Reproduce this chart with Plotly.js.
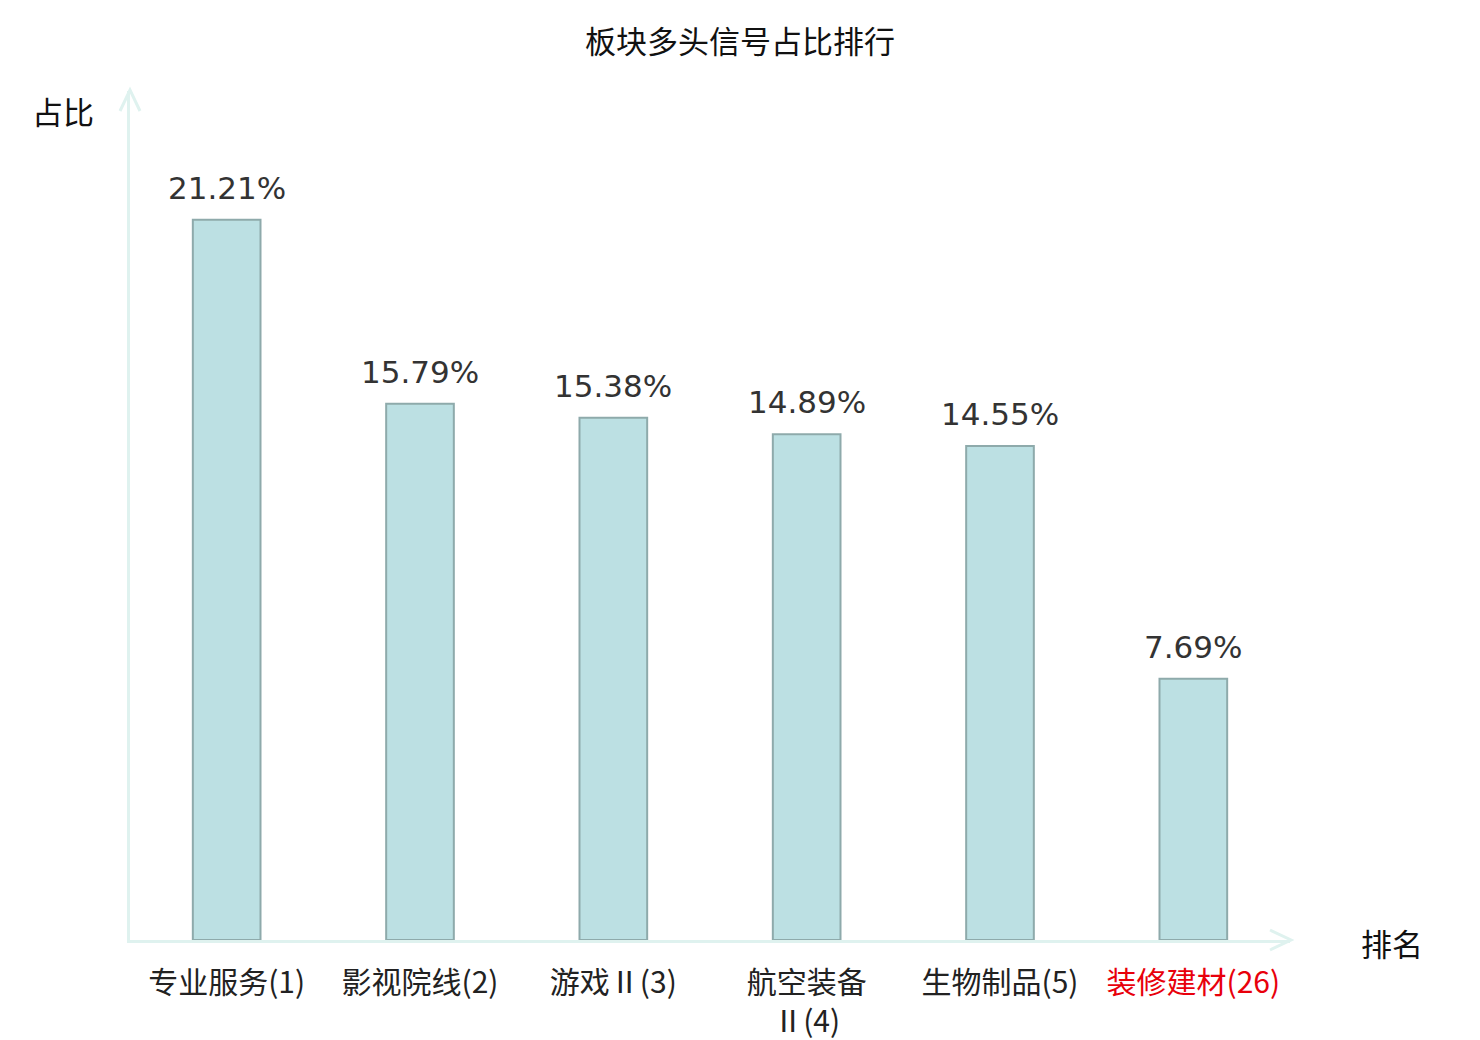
<!DOCTYPE html>
<html>
<head>
<meta charset="utf-8">
<script src="https://cdn.plot.ly/plotly-3.0.1.min.js"></script>
<style>
  html, body { margin: 0; padding: 0; background: #fff; }
  #chart { width: 1480px; height: 1040px; }
</style>
</head>
<body>
<div id="chart"></div>
<script>
// sector names with rank
const sectors = ['专业服务(1)', '影视院线(2)', '游戏Ⅱ(3)', '航空装备<br>Ⅱ(4)', '生物制品(5)', '<span style="color:#e8000b">装修建材(26)</span>'];
const shares = [21.21, 15.79, 15.38, 14.89, 14.55, 7.69];
const shareLabels = ['21.21%', '15.79%', '15.38%', '14.89%', '14.55%', '7.69%'];

const cjk = '"Noto Sans CJK SC", "Noto Sans", sans-serif';
const axisColor = '#dff2ef';
const positions = sectors.map((_, i) => i);

const trace = {
  type: 'bar',
  x: positions,
  y: shares,
  width: 0.35,
  marker: { color: '#bce0e3', line: { color: '#8eaaab', width: 2 } },
  hoverinfo: 'none'
};

// value labels sit a little above each bar
const valueNotes = positions.map((p, i) => ({
  x: p, y: shares[i], xref: 'x', yref: 'y',
  text: shareLabels[i],
  xanchor: 'center', yanchor: 'bottom', yshift: 12,
  showarrow: false,
  font: { family: '"DejaVu Sans", sans-serif', size: 31, color: '#333333' }
}));

const layout = {
  width: 1480,
  height: 1040,
  margin: { l: 130, r: 190, t: 91, b: 100 },
  paper_bgcolor: '#ffffff',
  plot_bgcolor: '#ffffff',
  showlegend: false,
  title: {
    text: '板块多头信号占比排行',
    font: { family: cjk, size: 31, color: '#111111' },
    x: 0.5, xanchor: 'center',
    y: 1 - 42 / 1040, yanchor: 'middle'
  },
  xaxis: {
    range: [-0.5, 5.5],
    tickvals: positions,
    ticktext: sectors,
    tickfont: { family: cjk, size: 30, color: '#222222' },
    ticklabelstandoff: 14,
    showgrid: false,
    zeroline: false,
    showline: true,
    linecolor: axisColor,
    linewidth: 3,
    ticks: '',
    fixedrange: true
  },
  yaxis: {
    range: [0, 25],
    showticklabels: false,
    showgrid: false,
    zeroline: false,
    showline: true,
    linecolor: axisColor,
    linewidth: 3,
    ticks: '',
    fixedrange: true
  },
  shapes: [
    // arrow heads at the axis ends
    {
      type: 'path', xref: 'paper', yref: 'paper',
      xsizemode: 'pixel', ysizemode: 'pixel', xanchor: 0, yanchor: 1,
      path: 'M -10,-20 L 0,1 L 10,-20',
      line: { color: axisColor, width: 3 }
    },
    {
      type: 'path', xref: 'paper', yref: 'paper',
      xsizemode: 'pixel', ysizemode: 'pixel', xanchor: 1, yanchor: 0,
      path: 'M -20,10 L 1,0 L -20,-10',
      line: { color: axisColor, width: 3 }
    }
  ],
  annotations: valueNotes.concat([
    {
      text: '占比', xref: 'paper', yref: 'paper',
      x: (63 - 130) / 1160, y: (940 - 110) / 849,
      xanchor: 'center', yanchor: 'middle', showarrow: false,
      font: { family: cjk, size: 31, color: '#111111' }
    },
    {
      text: '排名', xref: 'paper', yref: 'paper',
      x: (1392 - 130) / 1160, y: (940 - 942) / 849,
      xanchor: 'center', yanchor: 'middle', showarrow: false,
      font: { family: cjk, size: 31, color: '#111111' }
    }
  ])
};

Plotly.newPlot('chart', [trace], layout, { displayModeBar: false, staticPlot: true });
</script>
</body>
</html>
